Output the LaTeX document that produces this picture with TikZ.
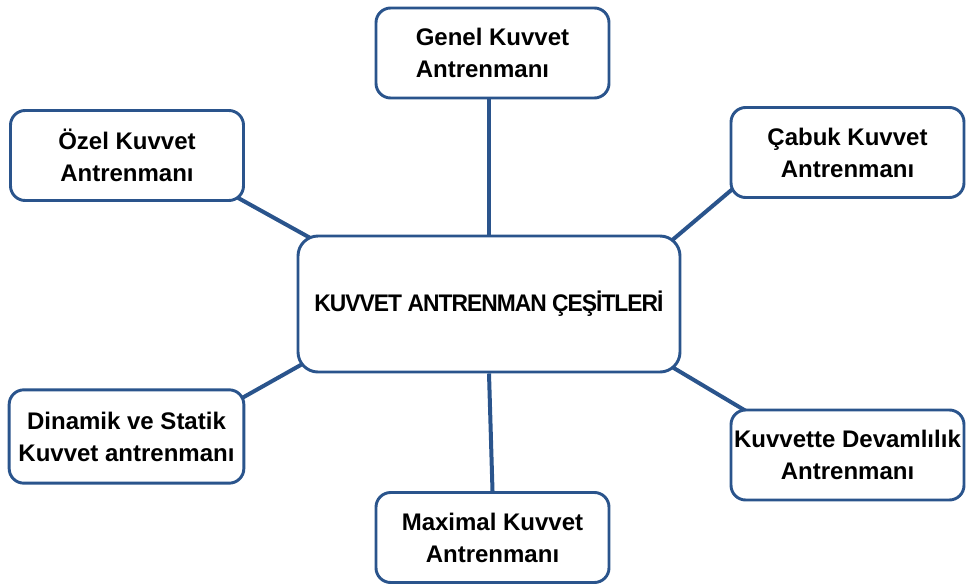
\documentclass[tikz,border=0pt]{standalone}
\usepackage{fontspec}
\setmainfont{Liberation Sans}
\newfontfamily\narrowfont[FakeStretch=0.95, LetterSpace=-4]{Liberation Sans}
\usetikzlibrary{backgrounds}
\definecolor{boxblue}{RGB}{42,84,140}

\begin{document}
\begin{tikzpicture}[
    x=0.75pt, y=-0.75pt,
    kind/.style={draw=boxblue, line width=2.2pt, rounded corners=11pt, fill=white, minimum width=174.75pt, minimum height=67.5pt, align=center, inner sep=1pt, font=\fontsize{18}{24}\selectfont\bfseries},
    hub/.style={kind, rounded corners=15pt, minimum width=286.5pt, minimum height=102pt, font=\narrowfont\fontsize{18}{24}\selectfont\bfseries},
    link/.style={draw=boxblue, line width=3pt}
]
\useasboundingbox (0,0) rectangle (970,585);

\node[hub] (main) at (489,304) {KUVVET ANTRENMAN ÇEŞİTLERİ};
\node[kind, align=left] (genel) at (492.5,53) {Genel Kuvvet\\Antrenmanı};
\node[kind] (ozel) at (127,155.5) {Özel Kuvvet\\Antrenmanı};
\node[kind] (cabuk) at (847.5,152.5) {Çabuk Kuvvet\\Antrenmanı};
\node[kind, minimum width=176pt, minimum height=70pt] (dinamik) at (126.5,436.5) {Dinamik ve Statik\\Kuvvet antrenmanı};
\node[kind] (devamlilik) at (847.5,455) {Kuvvette Devamlılık\\Antrenmanı};
\node[kind] (maximal) at (492.5,537.5) {Maximal Kuvvet\\Antrenmanı};

% connectors sit under the boxes, ends tucked into the corners
\begin{scope}[on background layer]
\draw[link] (genel.south -| main.north) -- (main.north);
\draw[link] (main.south) -- (maximal.north);
\draw[link] ([shift={(-14,-8)}]ozel.south east) -- ([shift={(22,8)}]main.north west);
\draw[link] ([shift={(9,-15)}]cabuk.south west) -- ([shift={(-18,13)}]main.north east);
\draw[link] ([shift={(-11,14)}]dinamik.north east) -- ([shift={(14,-14)}]main.south west);
\draw[link] ([shift={(-17,-11)}]main.south east) -- ([shift={(19,4)}]devamlilik.north west);
\end{scope}
\end{tikzpicture}
\end{document}
